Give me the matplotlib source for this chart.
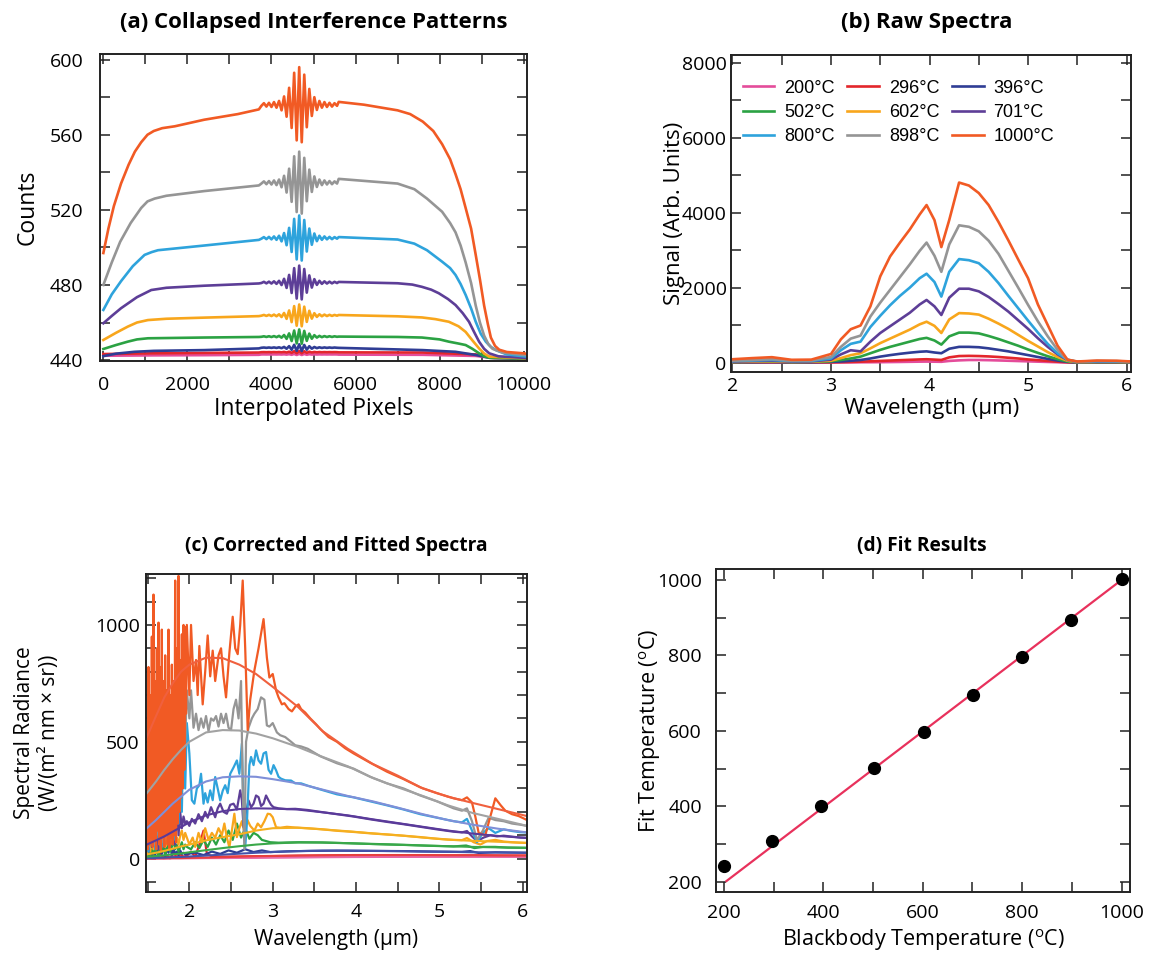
import matplotlib
matplotlib.use("Agg")
import matplotlib.pyplot as plt
from matplotlib.ticker import MultipleLocator

plt.rcParams['font.family'] = ['Open Sans', 'DejaVu Sans']
plt.rcParams['mathtext.fontset'] = 'custom'
plt.rcParams['mathtext.rm'] = 'Open Sans'

# blackbody set points and line colours
temps = [200, 296, 396, 502, 602, 701, 800, 898, 1000]
colors = ['#e44c9a', '#e3262b', '#2f3d95', '#2ba243', '#f8a61c',
          '#5d3e97', '#2ea3dc', '#959595', '#f15a24']
fit_colors = ['#e86aa8', '#e84040', '#4352aa', '#3aa84a', '#f5b020',
              '#5a3a9a', '#7f8fd8', '#a2a2a2', '#f0603e']

# ---- (a) collapsed interferograms: plateau before / after the burst
a_left_x = [
    [0, 1200, 2400, 3700],
    [0, 1200, 2400, 3700],
    [0, 300, 740, 1200, 2400, 3700],
    [0, 300, 580, 800, 1060, 2400, 3700],
    [0, 300, 580, 800, 1060, 1500, 2400, 3700],
    [0, 200, 420, 800, 1140, 1500, 2400, 3700],
    [0, 200, 420, 700, 980, 1150, 1300, 2400, 3700],
    [0, 200, 400, 650, 900, 1050, 1220, 1500, 2400, 3700],
    [0, 120, 250, 420, 600, 750, 900, 1050, 1200, 1400, 1700, 2400, 3200, 3700],
]
a_left_y = [
    [442.3, 442.5, 442.6, 442.8],
    [443.2, 443.6, 443.8, 444.0],
    [442.1, 443.4, 444.4, 444.9, 445.3, 446.2],
    [445.9, 448.0, 449.8, 451.0, 451.6, 452.0, 452.3],
    [450.7, 454.5, 457.8, 460.0, 461.3, 462.0, 462.6, 463.4],
    [459.6, 463.5, 467.6, 473.5, 477.3, 478.5, 479.6, 480.8],
    [466.7, 475.0, 482.0, 490.0, 496.0, 497.5, 498.5, 501.0, 504.0],
    [480.0, 492.0, 503.0, 513.0, 521.0, 524.5, 526.0, 527.5, 530.0, 533.0],
    [497.0, 510.0, 522.0, 534.0, 544.0, 551.0, 556.0, 560.0, 562.0, 563.5,
     564.5, 568.0, 571.0, 573.5],
]
a_right_x = [
    [5600, 7600, 8860, 9300, 10000, 10080],
    [5600, 7600, 8860, 9300, 10000, 10080],
    [5600, 7600, 8380, 8860, 9200, 10000, 10080],
    [5600, 7000, 7580, 8000, 8220, 8450, 8620, 8780, 8940, 9060, 9180, 10000, 10080],
    [5600, 7000, 7580, 7900, 8220, 8450, 8620, 8780, 8940, 9060, 9180, 10000, 10080],
    [5600, 7000, 7350, 7580, 7800, 7980, 8200, 8380, 8550, 8700, 8820, 8940,
     9060, 9180, 9400, 10000, 10080],
    [5600, 7000, 7400, 7700, 8060, 8250, 8380, 8500, 8620, 8750, 8860, 8980,
     9100, 9220, 9340, 9600, 10000, 10080],
    [5600, 7000, 7400, 7700, 8060, 8250, 8380, 8500, 8620, 8750, 8860, 8960,
     9060, 9160, 9260, 9500, 10000, 10080],
    [5600, 6200, 7000, 7300, 7600, 7850, 8060, 8250, 8380, 8500, 8620, 8750,
     8860, 8960, 9060, 9150, 9220, 9320, 9420, 9600, 10000, 10080],
]
a_right_y = [
    [442.9, 442.8, 442.2, 441.0, 440.8, 440.8],
    [444.1, 444.0, 443.0, 441.3, 441.0, 441.0],
    [446.5, 445.3, 444.4, 442.7, 441.2, 440.8, 440.8],
    [452.5, 452.3, 452.0, 451.0, 449.8, 448.8, 448.0, 446.0, 443.6, 442.0,
     441.2, 440.8, 440.8],
    [464.0, 463.3, 462.7, 461.8, 460.4, 458.0, 455.0, 450.5, 446.2, 443.5,
     441.8, 441.0, 441.0],
    [481.6, 480.9, 480.2, 479.0, 477.5, 475.6, 472.5, 469.3, 465.0, 460.4,
     455.0, 449.8, 446.0, 443.6, 442.0, 441.2, 441.0],
    [505.5, 504.2, 502.0, 498.5, 492.4, 489.0, 485.3, 480.5, 474.7, 467.5,
     460.4, 454.0, 449.8, 447.0, 445.3, 443.0, 442.0, 441.8],
    [536.5, 534.0, 531.0, 526.0, 519.0, 513.0, 508.0, 501.0, 492.0, 481.0,
     469.0, 460.0, 453.0, 448.5, 446.0, 444.0, 442.7, 442.5],
    [577.5, 576.0, 573.0, 571.0, 567.0, 562.0, 555.0, 547.0, 539.0, 531.0,
     521.0, 510.0, 496.0, 483.0, 469.0, 459.0, 452.0, 447.5, 445.5, 444.3,
     443.6, 443.3],
]
# level and half-height of the fringe burst around zero path difference
a_burst_level = [443.0, 444.2, 446.6, 452.5, 463.8, 481.3, 505.0, 534.5, 576.0]
a_burst_amp = [0.3, 0.6, 1.8, 3.8, 5.8, 9.0, 12.0, 16.5, 20.0]
burst_center = 4660
burst_offsets = [-900, -840, -780, -720, -660, -600, -540, -480, -420, -360,
                 -300, -240, -180, -120, -60, 0, 60, 120, 180, 240, 300,
                 360, 420, 480, 540, 600, 660, 720, 780, 840, 900]
burst_shape = [-0.03, 0.04, -0.05, 0.05, -0.06, 0.07, -0.08, 0.10, -0.15, 0.22,
               -0.32, 0.45, -0.62, 0.85, -0.95, 1.0, -1.0, 0.80, -0.60, 0.42,
               -0.30, 0.20, -0.14, 0.10, -0.08, 0.07, -0.06, 0.05, -0.05, 0.04, -0.03]

# ---- (b) raw spectra
b_wl = [2.0, 2.2, 2.4, 2.6, 2.8, 3.0, 3.1, 3.2, 3.3, 3.4, 3.5, 3.6, 3.7, 3.8,
        3.9, 3.97, 4.05, 4.12, 4.2, 4.3, 4.4, 4.5, 4.6, 4.7, 4.8, 4.9, 5.0,
        5.1, 5.2, 5.3, 5.4, 5.5, 5.7, 5.9, 6.05]
b_signal = [
    [3, 4, 5, 3, 4, 5, 6, 7, 9, 10, 12, 15, 18, 22, 26, 28, 25, 22, 45, 60,
     70, 70, 65, 58, 50, 42, 34, 26, 18, 10, 4, 2, 3, 3, 2],
    [5, 6, 8, 5, 6, 8, 12, 18, 25, 35, 45, 55, 65, 75, 85, 90, 80, 70, 140,
     175, 180, 175, 165, 150, 130, 110, 85, 65, 45, 25, 10, 3, 5, 5, 3],
    [10, 12, 15, 10, 12, 20, 30, 50, 70, 110, 160, 200, 235, 265, 290, 300,
     270, 250, 370, 420, 420, 410, 380, 340, 300, 250, 200, 150, 100, 55, 20,
     5, 10, 10, 5],
    [15, 20, 25, 15, 20, 35, 70, 110, 160, 250, 340, 420, 490, 560, 630, 660,
     590, 480, 700, 800, 800, 780, 710, 630, 540, 450, 350, 260, 170, 90, 30,
     8, 15, 15, 8],
    [20, 25, 35, 20, 25, 50, 120, 200, 250, 380, 520, 640, 760, 880, 1020,
     1090, 980, 790, 1150, 1320, 1310, 1280, 1170, 1040, 900, 740, 580, 430,
     280, 150, 50, 10, 20, 20, 10],
    [30, 40, 50, 30, 35, 80, 220, 330, 300, 560, 790, 970, 1150, 1330, 1550,
     1670, 1500, 1270, 1730, 1970, 1970, 1900, 1750, 1560, 1360, 1130, 900,
     650, 420, 220, 70, 15, 25, 25, 15],
    [40, 55, 70, 40, 45, 110, 330, 500, 560, 950, 1250, 1530, 1780, 2000,
     2250, 2370, 2150, 1760, 2420, 2760, 2730, 2650, 2420, 2120, 1780, 1450,
     1120, 800, 500, 250, 80, 20, 35, 30, 20],
    [50, 70, 90, 50, 60, 150, 420, 640, 720, 1230, 1600, 1940, 2280, 2620,
     2980, 3200, 2850, 2420, 3150, 3660, 3620, 3500, 3250, 2900, 2450, 2000,
     1540, 1100, 700, 340, 70, 25, 45, 40, 25],
    [90, 120, 145, 75, 80, 230, 620, 890, 990, 1500, 2300, 2830, 3200, 3550,
     3950, 4200, 3800, 3080, 3800, 4800, 4720, 4520, 4200, 3750, 3260, 2750,
     2250, 1550, 1000, 450, 80, 30, 55, 50, 30],
]

# ---- (c) corrected spectra: noisy short-wave head + measured tail
c_head_fine = [1.49, 1.50, 1.51, 1.52, 1.53, 1.54, 1.55, 1.56, 1.57, 1.58,
               1.59, 1.60, 1.61, 1.62, 1.63, 1.64, 1.65, 1.66, 1.67, 1.68,
               1.69, 1.70, 1.71, 1.72, 1.73, 1.74, 1.75, 1.76, 1.77, 1.78,
               1.79, 1.80, 1.81, 1.82, 1.83, 1.84, 1.85, 1.86, 1.87, 1.88,
               1.89, 1.90, 1.91, 1.92, 1.93, 1.94, 1.95, 1.96, 1.97]
c_head_mid = [1.49, 1.51, 1.53, 1.55, 1.57, 1.59, 1.61, 1.63, 1.65, 1.67,
              1.69, 1.71, 1.73, 1.75, 1.77, 1.79, 1.81, 1.83, 1.85, 1.87,
              1.89, 1.91, 1.93, 1.95, 1.97]
c_head_coarse = [1.49, 1.53, 1.57, 1.61, 1.65, 1.69, 1.73, 1.77, 1.81, 1.85,
                 1.89, 1.93, 1.97]
c_head_y = [
    [3, 1, 6, 2, 8, 2, 5, 1, 10, 3, 6, 4, 5],
    [8, 2, 15, 4, 20, 5, 12, 3, 25, 6, 18, 8, 12],
    [20, 5, 40, 10, 60, 15, 80, 10, 50, 20, 70, 10, 45, 25, 60, 15, 40, 20,
     30, 15, 35, 20, 25, 18, 20],
    [10, 30, 15, 40, 20, 50, 25, 15, 45, 30, 60, 20, 40, 70, 30, 50, 80, 40,
     60, 30, 50, 70, 40, 60, 50],
    [20, 60, 30, 80, 40, 100, 50, 40, 90, 60, 120, 50, 70, 110, 60, 80, 130,
     70, 90, 60, 100, 120, 80, 110, 90],
    [200, 30, 350, 50, 500, 80, 300, 40, 450, 60, 560, 100, 380, 70, 480, 90,
     300, 60, 250, 100, 200, 130, 180, 150, 160],
    [150, 30, 250, 60, 300, 40, 200, 80, 350, 50, 280, 100, 400, 60, 330, 120,
     450, 80, 500, 150, 560, 200, 590, 300, 580],
    [300, 50, 450, 80, 520, 60, 600, 100, 480, 70, 650, 120, 560, 90, 700,
     150, 620, 200, 720, 250, 650, 380, 720, 500, 720],
    [450, 40, 820, 60, 700, 90, 950, 50, 1130, 80, 760, 40, 900, 120, 1010,
     60, 820, 30, 980, 90, 760, 50, 870, 110, 720, 60, 980, 40, 700, 90, 830,
     60, 760, 100, 1190, 70, 900, 150, 1210, 200, 850, 260, 960, 300, 1000,
     380, 990, 620, 1000],
]
c_tail_x = [
    [2.17, 2.57, 2.97, 3.47, 3.97, 4.97, 6.05],
    [2.02, 2.07, 2.12, 2.17, 2.21, 2.27, 2.37, 2.57, 2.77, 2.97, 3.47, 3.97,
     4.47, 4.97, 5.47, 6.05],
    [2.07, 2.17, 2.27, 2.37, 2.47, 2.57, 2.67, 2.77, 2.87, 2.97, 3.17, 3.47,
     3.77, 4.17, 4.57, 4.97, 5.27, 5.37, 5.47, 5.67, 6.05],
    [2.02, 2.07, 2.12, 2.17, 2.22, 2.27, 2.32, 2.37, 2.42, 2.47, 2.52, 2.57,
     2.62, 2.67, 2.72, 2.77, 2.82, 2.87, 2.92, 2.97, 3.07, 3.17, 3.32, 3.57,
     3.77, 3.97, 4.27, 4.57, 4.87, 5.17, 5.32, 5.42, 5.52, 5.67, 5.82, 6.05],
    [2.00, 2.04, 2.07, 2.11, 2.15, 2.19, 2.23, 2.27, 2.31, 2.35, 2.39, 2.42,
     2.45, 2.48, 2.51, 2.54, 2.57, 2.60, 2.63, 2.66, 2.69, 2.73, 2.78, 2.82,
     2.86, 2.90, 2.94, 2.97, 3.00, 3.04, 3.09, 3.17, 3.27, 3.42, 3.57, 3.77,
     3.97, 4.17, 4.37, 4.57, 4.77, 4.97, 5.17, 5.27, 5.33, 5.41, 5.49, 5.57,
     5.67, 5.77, 5.87, 5.97, 6.05],
    [2.00, 2.03, 2.07, 2.11, 2.15, 2.19, 2.22, 2.26, 2.31, 2.34, 2.37, 2.41,
     2.45, 2.49, 2.53, 2.57, 2.61, 2.63, 2.65, 2.68, 2.71, 2.74, 2.77, 2.80,
     2.83, 2.86, 2.89, 2.92, 2.95, 2.98, 3.01, 3.07, 3.17, 3.27, 3.42, 3.57,
     3.77, 3.97, 4.17, 4.37, 4.57, 4.77, 4.97, 5.17, 5.27, 5.33, 5.39, 5.45,
     5.53, 5.61, 5.69, 5.77, 5.87, 5.97, 6.05],
    [2.00, 2.03, 2.06, 2.09, 2.12, 2.14, 2.17, 2.19, 2.22, 2.25, 2.28, 2.31,
     2.34, 2.37, 2.40, 2.43, 2.46, 2.49, 2.53, 2.57, 2.60, 2.63, 2.65, 2.67,
     2.69, 2.72, 2.74, 2.77, 2.80, 2.83, 2.86, 2.89, 2.92, 2.95, 2.98, 3.01,
     3.04, 3.07, 3.10, 3.15, 3.22, 3.27, 3.34, 3.42, 3.57, 3.77, 3.97, 4.17,
     4.37, 4.57, 4.77, 4.97, 5.17, 5.27, 5.33, 5.39, 5.45, 5.52, 5.59, 5.67,
     5.77, 5.87, 5.97, 6.05],
    [2.00, 2.02, 2.05, 2.08, 2.11, 2.14, 2.17, 2.20, 2.23, 2.26, 2.29, 2.32,
     2.35, 2.38, 2.41, 2.44, 2.47, 2.50, 2.53, 2.56, 2.59, 2.62, 2.64, 2.66,
     2.68, 2.71, 2.75, 2.78, 2.82, 2.86, 2.90, 2.93, 2.96, 3.00, 3.05, 3.09,
     3.15, 3.22, 3.27, 3.34, 3.42, 3.57, 3.77, 3.97, 4.17, 4.37, 4.57, 4.77,
     4.97, 5.17, 5.27, 5.33, 5.39, 5.45, 5.52, 5.59, 5.67, 5.77, 5.87, 5.97,
     6.05],
    [2.00, 2.02, 2.05, 2.08, 2.10, 2.12, 2.16, 2.19, 2.22, 2.25, 2.28, 2.31,
     2.35, 2.38, 2.41, 2.44, 2.48, 2.52, 2.55, 2.58, 2.61, 2.64, 2.67, 2.70,
     2.73, 2.78, 2.83, 2.89, 2.93, 2.96, 3.00, 3.04, 3.07, 3.11, 3.14, 3.19,
     3.23, 3.27, 3.31, 3.34, 3.39, 3.45, 3.52, 3.57, 3.67, 3.77, 3.87, 3.97,
     4.17, 4.37, 4.57, 4.77, 4.97, 5.17, 5.27, 5.33, 5.39, 5.43, 5.47, 5.55,
     5.61, 5.67, 5.73, 5.79, 5.87, 5.95, 6.05],
]
c_tail_y = [
    [3, 3, 5, 6, 7, 8, 8],
    [30, 8, 60, 120, 20, 10, 8, 9, 10, 11, 13, 15, 15, 14, 14, 13],
    [25, 15, 30, 20, 35, 25, 40, 28, 35, 28, 31, 33, 34, 33, 32, 30, 29, 32,
     24, 27, 25],
    [40, 70, 45, 80, 50, 90, 60, 100, 70, 120, 80, 150, 90, 130, 85, 110, 100,
     80, 75, 70, 68, 69, 70, 69, 67, 65, 62, 59, 55, 52, 56, 45, 50, 50, 47, 46],
    [60, 90, 50, 110, 70, 130, 80, 110, 90, 130, 100, 150, 90, 48, 120, 192,
     92, 130, 160, 110, 170, 140, 120, 150, 134, 160, 192, 190, 177, 134, 132,
     136, 133, 130, 126, 119, 114, 108, 103, 98, 92, 85, 80, 79, 88, 70, 60,
     75, 80, 73, 70, 68, 67],
    [140, 170, 150, 190, 160, 200, 175, 220, 177, 215, 235, 200, 192, 230,
     235, 210, 292, 250, 135, 200, 249, 220, 235, 270, 263, 225, 235, 270,
     249, 230, 220, 215, 212, 213, 208, 200, 190, 180, 168, 157, 147, 136,
     125, 115, 112, 118, 95, 75, 90, 100, 95, 98, 94, 90, 89],
    [450, 250, 235, 300, 314, 363, 235, 280, 240, 292, 250, 349, 300, 249,
     290, 314, 280, 363, 390, 420, 363, 492, 200, 48, 150, 400, 435, 400, 463,
     420, 406, 450, 456, 380, 363, 400, 378, 350, 342, 335, 334, 322, 322,
     312, 296, 275, 262, 245, 228, 210, 190, 175, 160, 155, 170, 120, 70, 110,
     130, 110, 125, 118, 113, 112],
    [600, 720, 560, 620, 550, 600, 560, 610, 545, 600, 590, 610, 565, 620,
     580, 620, 560, 550, 640, 680, 600, 760, 300, 40, 500, 560, 600, 620, 640,
     690, 680, 570, 565, 580, 540, 528, 520, 500, 485, 480, 470, 438, 408,
     385, 350, 322, 300, 270, 245, 215, 205, 215, 160, 80, 120, 175, 165, 160,
     150, 145, 140],
    [700, 1000, 760, 850, 700, 910, 660, 800, 955, 780, 890, 760, 870, 900,
     780, 690, 880, 1035, 900, 875, 1000, 1190, 900, 550, 680, 805, 900, 1025,
     860, 775, 790, 720, 690, 660, 665, 640, 630, 650, 660, 640, 625, 600,
     575, 555, 520, 500, 472, 450, 410, 372, 340, 305, 280, 258, 250, 262,
     240, 180, 110, 100, 180, 258, 230, 205, 190, 182, 165],
]
c_heads = [c_head_coarse, c_head_coarse, c_head_mid, c_head_mid, c_head_mid,
           c_head_mid, c_head_mid, c_head_mid, c_head_fine]

# Planck fits drawn over the measured spectra
c_fit_wl = [1.49, 1.6, 1.7, 1.8, 1.9, 2.0, 2.2, 2.4, 2.6, 2.8, 3.0, 3.3, 3.6,
            3.9, 4.2, 4.5, 4.8, 5.1, 5.4, 5.7, 6.05]
c_fit = [
    [0, 0, 0, 1, 1, 1, 2, 2, 3, 4, 5, 6, 7, 7, 8, 8, 8, 8, 8, 8, 8],
    [1, 1, 1, 2, 2, 3, 4, 6, 8, 10, 11, 13, 14, 15, 15, 15, 15, 14, 14, 13, 13],
    [2, 3, 4, 6, 7, 9, 13, 17, 21, 25, 28, 32, 34, 34, 33, 32, 30, 29, 27, 26, 25],
    [8, 11, 14, 18, 22, 27, 36, 45, 53, 60, 65, 69, 69, 66, 62, 59, 56, 53,
     50, 48, 46],
    [18, 25, 33, 42, 52, 60, 78, 92, 104, 120, 130, 132, 125, 117, 108, 100,
     90, 81, 76, 72, 67],
    [60, 78, 95, 115, 135, 155, 185, 203, 212, 215, 214, 210, 198, 185, 168,
     152, 136, 120, 107, 97, 88],
    [130, 165, 200, 235, 265, 295, 330, 348, 352, 350, 340, 322, 295, 268,
     245, 218, 190, 165, 145, 128, 112],
    [280, 330, 380, 425, 465, 500, 540, 550, 548, 535, 515, 478, 435, 395,
     345, 305, 268, 228, 195, 170, 140],
    [520, 610, 690, 750, 800, 830, 860, 858, 830, 790, 735, 650, 545, 470,
     405, 355, 300, 265, 238, 212, 182],
]

# ---- (d) fit results
bb_temp = [200, 296, 396, 502, 602, 701, 800, 898, 1000]
fit_temp = [242, 308, 402, 502, 597, 696, 796, 894, 1002]
line_x = [205, 1000]
line_y = [202, 1000]

W, H = 1158, 959
fig = plt.figure(figsize=(W / 100, H / 100), dpi=100)


def add_axes_px(left, top, right, bottom):
    return fig.add_axes([left / W, 1 - bottom / H, (right - left) / W, (bottom - top) / H])


def style(ax, xmaj, xmin, ymaj, ymin, xpad, ypad):
    ax.xaxis.set_major_locator(MultipleLocator(xmaj))
    ax.xaxis.set_minor_locator(MultipleLocator(xmin))
    ax.yaxis.set_major_locator(MultipleLocator(ymaj))
    ax.yaxis.set_minor_locator(MultipleLocator(ymin))
    ax.tick_params(which='both', direction='in', top=True, right=True,
                   length=7, width=1.1, labelsize=14, color='#222222')
    ax.tick_params(axis='x', which='both', pad=xpad)
    ax.tick_params(axis='y', which='both', pad=ypad)
    for s in ax.spines.values():
        s.set_linewidth(1.4)
        s.set_color('#222222')


def labels(ax, title, tsize, tx, ty, xl, xly, yl, ylx, lsize):
    ax.text(tx, ty, title, transform=ax.transAxes, ha='center', va='center',
            fontsize=tsize, fontweight='bold')
    ax.set_xlabel(xl, fontsize=lsize, va='center')
    ax.xaxis.set_label_coords(0.5, xly)
    ax.set_ylabel(yl, fontsize=lsize, va='center', linespacing=1.2)
    ax.yaxis.set_label_coords(ylx, 0.5)


# (a)
ax = add_axes_px(100, 54, 527, 361)
for i in range(len(temps)):
    xs = a_left_x[i] + [burst_center + o for o in burst_offsets] + a_right_x[i]
    ys = (a_left_y[i] + [a_burst_level[i] + a_burst_amp[i] * s for s in burst_shape]
          + a_right_y[i])
    ax.plot(xs, ys, color=colors[i], lw=1.9, solid_joinstyle='round')
ax.set_xlim(-80, 10080)
ax.set_ylim(439.5, 603)
style(ax, 2000, 1000, 40, 20, 11, 12)
labels(ax, '(a) Collapsed Interference Patterns', 16, 0.5, 1.104,
       'Interpolated Pixels', -0.156, 'Counts', -0.169, 16.5)

# (b)
ax = add_axes_px(731.5, 55, 1131, 372)
handles = []
for i in range(len(temps)):
    h, = ax.plot(b_wl, b_signal[i], color=colors[i], lw=1.9, label=f'{temps[i]}°C')
    handles.append(h)
ax.set_xlim(1.99, 6.045)
ax.set_ylim(-250, 8200)
style(ax, 1, 0.5, 2000, 1000, 3.5, 3.5)
labels(ax, '(b) Raw Spectra', 16, 0.489, 1.104,
       'Wavelength (µm)', -0.114, 'Signal (Arb. Units)', -0.142, 16)
order = [0, 3, 6, 1, 4, 7, 2, 5, 8]
ax.legend([handles[k] for k in order], [handles[k].get_label() for k in order],
          ncol=3, loc='upper left', bbox_to_anchor=(0.028, 0.922), frameon=False,
          borderpad=0, borderaxespad=0, handlelength=1.75, handletextpad=0.55,
          columnspacing=0.7, labelspacing=0.4,
          prop={'family': 'Liberation Sans', 'size': 13})

# (c)
ax = add_axes_px(146, 574, 527, 892)
for i in range(len(temps)):
    ax.plot(c_heads[i] + c_tail_x[i], c_head_y[i] + c_tail_y[i],
            color=colors[i], lw=1.6, solid_joinstyle='round')
for i in range(len(temps)):
    ax.plot(c_fit_wl, c_fit[i], color=fit_colors[i], lw=1.5)
ax.set_xlim(1.48, 6.05)
ax.set_ylim(-143, 1218)
style(ax, 1, 0.5, 500, 100, 8, 4.5)
labels(ax, '(c) Corrected and Fitted Spectra', 13.8, 0.499, 1.088,
       'Wavelength (µm)', -0.148, 'Spectral Radiance\n(W/(m² nm × sr))', -0.286, 15)

# (d)
ax = add_axes_px(716, 569, 1130, 892)
ax.plot(line_x, line_y, color='#e8315c', lw=1.6)
ax.plot(bb_temp, fit_temp, 'o', color='black', ms=8.5)
ax.set_xlim(184, 1017)
ax.set_ylim(173, 1029)
style(ax, 200, 100, 200, 100, 8.5, 10)
labels(ax, '(d) Fit Results', 13.8, 0.498, 1.071,
       r'Blackbody Temperature ($^{\rm o}$C)', -0.149,
       r'Fit Temperature ($^{\rm o}$C)', -0.159, 15.5)

fig.savefig('out.png', dpi=100, facecolor='white')
